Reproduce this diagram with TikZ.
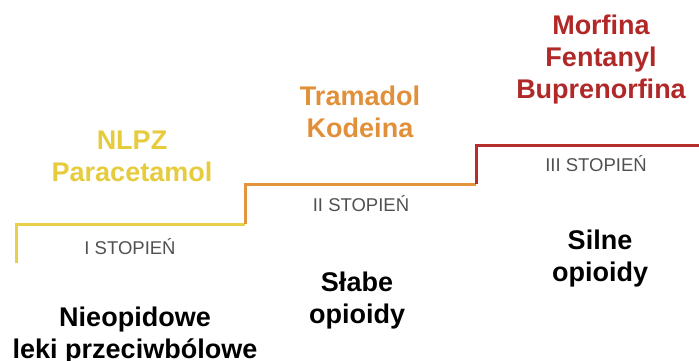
\documentclass[tikz,border=0pt]{standalone}
\usepackage{fontspec}
\setmainfont{Liberation Sans}
\definecolor{stepyellow}{HTML}{E8D04A}
\definecolor{steporange}{HTML}{E3943C}
\definecolor{stepred}{HTML}{B52D2D}
\definecolor{drugyellow}{HTML}{E6CC3C}
\definecolor{drugorange}{HTML}{E18F38}
\definecolor{drugred}{HTML}{B02828}
\definecolor{labelgray}{HTML}{505050}
\begin{document}
\begin{tikzpicture}[x=1pt,y=-1pt,
  stair/.style={line width=3pt,line join=miter,line cap=butt},
  drug/.style={font=\fontsize{27}{32}\selectfont\bfseries,align=center,anchor=base,inner sep=0pt},
  group/.style={font=\fontsize{27}{32}\selectfont\bfseries,align=center,anchor=base,inner sep=0pt,text=black},
  level/.style={font=\fontsize{18.5}{22}\selectfont,text=labelgray,anchor=base,inner sep=0pt}]
\useasboundingbox (0,0) rectangle (699,360);
% corner points of the three steps
\coordinate (s1a) at (16,263);
\coordinate (s1b) at (16,224);
\coordinate (s1c) at (245,224);
\coordinate (s2b) at (245,184);
\coordinate (s2c) at (476,184);
\coordinate (s3b) at (476,145);
\coordinate (s3c) at (702,145);
\draw[stair,stepyellow] (s1a) -- (s1b) -- (s1c);
\draw[stair,steporange] (s1c) -- (s2b) -- (s2c);
\draw[stair,stepred] (s2c) -- (s3b) -- (s3c);
% drugs on each step (anchored at the baseline of the last line)
\node[drug,text=drugyellow] (d1) at (132,181.5) {NLPZ\\Paracetamol};
\node[drug,text=drugorange] (d2) at (360,137) {Tramadol\\Kodeina};
\node[drug,text=drugred] (d3) at (601,98) {Morfina\\Fentanyl\\Buprenorfina};
% step labels
\node[level] (l1) at (130,254) {I STOPIEŃ};
\node[level] (l2) at (361,211.5) {II STOPIEŃ};
\node[level] (l3) at (596,171.5) {III STOPIEŃ};
% drug groups
\node[group] (g1) at (135,358) {Nieopidowe\\leki przeciwbólowe};
\node[group] (g2) at (357,323) {Słabe\\opioidy};
\node[group] (g3) at (600,281) {Silne\\opioidy};
\end{tikzpicture}
\end{document}
